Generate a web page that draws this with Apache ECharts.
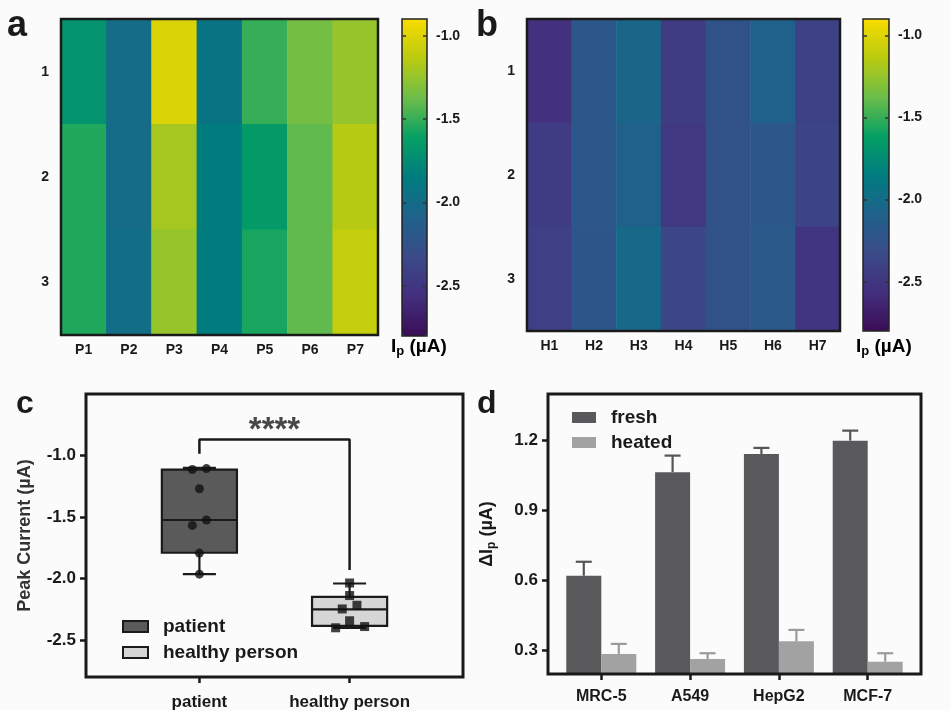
<!DOCTYPE html>
<html><head><meta charset="utf-8">
<script src="https://cdn.jsdelivr.net/npm/echarts@6/dist/echarts.min.js"></script>
<style>html,body{margin:0;padding:0;background:#fbfbfb}#c{width:950px;height:711px}</style>
</head><body><div id="c"></div><script>
// ---------- data ----------
const patientCols = ['P1','P2','P3','P4','P5','P6','P7'];
const healthyCols = ['H1','H2','H3','H4','H5','H6','H7'];
const repRows = ['1','2','3'];
const patientRow1 = [-1.70,-2.00,-1.02,-1.93,-1.50,-1.35,-1.25];
const patientRow2 = [-1.55,-2.00,-1.20,-1.85,-1.65,-1.40,-1.15];
const patientRow3 = [-1.55,-1.98,-1.25,-1.85,-1.57,-1.40,-1.10];
const healthyRow1 = [-2.55,-2.20,-2.05,-2.45,-2.25,-2.10,-2.40];
const healthyRow2 = [-2.45,-2.20,-2.10,-2.48,-2.25,-2.20,-2.38];
const healthyRow3 = [-2.42,-2.22,-2.02,-2.35,-2.25,-2.18,-2.52];
const colorbarTicks = [-2.5,-2.0,-1.5,-1.0];
const palette = ['#3b0d56','#432f7e','#3a4a88','#1f628b','#007c7f','#05a064','#6cbd4a','#bacb10','#f8dc00'];

const groups = ['patient','healthy person'];
const patientPoints = [-1.114,-1.106,-1.27,-1.524,-1.568,-1.793,-1.964];
const patientJitter = [-0.047,0.047,0,0.047,-0.047,0,0];
const healthyPoints = [-2.036,-2.138,-2.247,-2.217,-2.343,-2.40,-2.39];
const healthyJitter = [0,0,-0.049,0.049,0,-0.093,0.1];
const patientBox = [-1.964,-1.79,-1.524,-1.114,-1.10]; // min,Q1,median,Q3,max
const healthyBox = [-2.40,-2.384,-2.25,-2.149,-2.04];
const bracket = [[0,-0.986],[0,-0.87],[1,-0.87],[1,-1.93]];
const sigMark = [[0.5,-0.80]];
const cTicks = [-2.5,-2.0,-1.5,-1.0];

const cellLines = ['MRC-5','A549','HepG2','MCF-7'];
const fresh = [0.621,1.065,1.143,1.200];
const freshErr = [0.060,0.071,0.026,0.043];
const heated = [0.286,0.264,0.340,0.253];
const heatedErr = [0.043,0.025,0.049,0.036];
const dTicks = [0.3,0.6,0.9,1.2];

// ---------- helpers ----------
const FONT = 'Liberation Sans, Arial, sans-serif';
const INK = '#1a1a1a';
function heatData(rows){ const out=[]; rows.forEach((r,yi)=>r.forEach((v,xi)=>out.push([xi,yi,v]))); return out; }
const patientHeat = heatData([patientRow1,patientRow2,patientRow3]);
const healthyHeat = heatData([healthyRow1,healthyRow2,healthyRow3]);
const bold = (s)=>({fontFamily:FONT,fontWeight:'bold',fontSize:s,color:INK});

function heatX(grid, cats){ return {type:'category', gridIndex:grid, data:cats, z:6,
  axisLine:{show:false,onZero:false}, axisTick:{alignWithLabel:true,length:5,lineStyle:{color:INK,width:2}},
  axisLabel:Object.assign({margin:8},bold(14)), splitLine:{show:false}}; }
function heatY(grid){ return {type:'category', gridIndex:grid, data:repRows, inverse:true, z:6,
  axisLine:{show:false,onZero:false}, axisTick:{alignWithLabel:true,length:5,lineStyle:{color:INK,width:2}},
  axisLabel:Object.assign({margin:12},bold(14)), splitLine:{show:false}}; }
function cbY(grid, pos, labels){ return {type:'value', gridIndex:grid, position:pos, min:-2.8, max:-0.9, z:12,
  axisLine:{show:false,onZero:false}, splitLine:{show:false},
  axisTick:{show:true, inside:true, length:4, customValues:colorbarTicks, lineStyle:{color:'#333',width:1.5}},
  axisLabel: labels ? Object.assign({customValues:colorbarTicks, formatter:v=>Number(v).toFixed(1), margin:9}, bold(14)) : {show:false}}; }

function boxRender(params, api){
  const x=api.value(0), mn=api.value(1), q1=api.value(2), md=api.value(3), q3=api.value(4), mx=api.value(5);
  const hw=0.25, cw=0.11;
  const p=(a,b)=>api.coord([a,b]);
  const ls={stroke:INK,lineWidth:2.2};
  const L=(a,b)=>({type:'line',shape:{x1:a[0],y1:a[1],x2:b[0],y2:b[1]},style:ls});
  const tl=p(x-hw,q3), br=p(x+hw,q1);
  return {type:'group',children:[
    L(p(x,q3),p(x,mx)), L(p(x-cw,mx),p(x+cw,mx)),
    L(p(x,q1),p(x,mn)), L(p(x-cw,mn),p(x+cw,mn)),
    {type:'rect',shape:{x:tl[0],y:tl[1],width:br[0]-tl[0],height:br[1]-tl[1]},style:{fill:api.visual('color'),stroke:INK,lineWidth:2.2}},
    L(p(x-hw,md),p(x+hw,md))
  ]};
}
const BARW = 35;
function errRender(offset, color){ return function(params, api){
  const x=api.value(0), v=api.value(1), e=api.value(2);
  const a=api.coord([x,v]), b=api.coord([x,v+e]); const cx=a[0]+offset;
  const st={stroke:color,lineWidth:2.2};
  return {type:'group',children:[
    {type:'line',shape:{x1:cx,y1:a[1],x2:cx,y2:b[1]},style:st},
    {type:'line',shape:{x1:cx-8,y1:b[1],x2:cx+8,y2:b[1]},style:st}]};
};}

const subRich = {
  a:{fontFamily:FONT,fontWeight:'bold',fontSize:19,color:INK},
  s:{fontFamily:FONT,fontWeight:'bold',fontSize:13,color:INK,padding:[9,0,0,0]}
};
const subRichY = {
  a:{fontFamily:FONT,fontWeight:'bold',fontSize:18,color:INK},
  s:{fontFamily:FONT,fontWeight:'bold',fontSize:12,color:INK,padding:[9,0,0,0]}
};

const option = {
  backgroundColor:'#fbfbfb',
  animation:false,
  grid:[
    {left:61,top:19,width:317,height:316,show:true,z:5,backgroundColor:'transparent',borderColor:INK,borderWidth:2.5},
    {left:402,top:19,width:25,height:317,show:true,z:10,backgroundColor:'transparent',borderColor:'#222',borderWidth:1.5},
    {left:527,top:19,width:313,height:312,show:true,z:5,backgroundColor:'transparent',borderColor:INK,borderWidth:2.5},
    {left:863,top:19,width:26,height:312,show:true,z:10,backgroundColor:'transparent',borderColor:'#222',borderWidth:1.5},
    {left:86,top:394,width:377,height:283,show:true,z:5,backgroundColor:'transparent',borderColor:INK,borderWidth:3},
    {left:548,top:394,width:373,height:280,show:true,z:5,backgroundColor:'transparent',borderColor:INK,borderWidth:3}
  ],
  xAxis:[
    heatX(0,patientCols),
    {type:'value',gridIndex:1,show:false,min:0,max:1},
    heatX(2,healthyCols),
    {type:'value',gridIndex:3,show:false,min:0,max:1},
    {type:'value',gridIndex:4,min:-0.755,max:1.755,z:6,axisLine:{show:false,onZero:false},splitLine:{show:false},
      axisTick:{customValues:[0,1],length:6,lineStyle:{color:INK,width:2.5}},
      axisLabel:Object.assign({customValues:[0,1],formatter:v=>groups[Math.round(v)],margin:17},bold(17))},
    {type:'value',gridIndex:5,min:-0.6,max:3.6,z:6,axisLine:{show:false,onZero:false},splitLine:{show:false},
      axisTick:{customValues:[0,1,2,3],length:6,lineStyle:{color:INK,width:2.5}},
      axisLabel:Object.assign({customValues:[0,1,2,3],formatter:v=>cellLines[Math.round(v)],margin:15},bold(16))}
  ],
  yAxis:[
    heatY(0),
    cbY(1,'right',true),
    cbY(1,'left',false),
    heatY(2),
    cbY(3,'right',true),
    cbY(3,'left',false),
    {type:'value',gridIndex:4,position:'left',min:-2.8,max:-0.5,z:6,axisLine:{show:false,onZero:false},splitLine:{show:false},
      axisTick:{customValues:cTicks,length:6,lineStyle:{color:INK,width:2.5}},
      axisLabel:Object.assign({customValues:cTicks,formatter:v=>Number(v).toFixed(1),margin:10},bold(17)),
      name:'Peak Current (µA)',nameLocation:'middle',nameRotate:90,nameGap:52,
      nameTextStyle:{fontFamily:FONT,fontWeight:'bold',fontSize:18,color:'#333'}},
    {type:'value',gridIndex:5,position:'left',min:0.2,max:1.4,z:6,axisLine:{show:false,onZero:false},splitLine:{show:false},
      axisTick:{customValues:dTicks,length:6,lineStyle:{color:INK,width:2.5}},
      axisLabel:Object.assign({customValues:dTicks,formatter:v=>Number(v).toFixed(1),margin:10},bold(17)),
      name:'{a|ΔI}{s|p}{a| (µA)}',nameLocation:'middle',nameRotate:90,nameGap:50,
      nameTextStyle:{rich:subRichY}}
  ],
  visualMap:[
    {type:'continuous',seriesIndex:0,min:-2.8,max:-0.9,calculable:false,hoverLink:false,left:402,top:19,
      itemWidth:25,itemHeight:317,padding:0,text:null,inRange:{color:palette}},
    {type:'continuous',seriesIndex:1,min:-2.8,max:-0.9,calculable:false,hoverLink:false,left:863,top:19,
      itemWidth:26,itemHeight:312,padding:0,text:null,inRange:{color:palette}}
  ],
  legend:[
    {left:122,top:617,orient:'vertical',icon:'rect',itemWidth:25,itemHeight:11,itemGap:7,padding:0,selectedMode:false,
      data:[{name:'patient',itemStyle:{color:'#5a5a5a',borderColor:INK,borderWidth:2}},
            {name:'healthy person',itemStyle:{color:'#d6d6d6',borderColor:INK,borderWidth:2}}],
      textStyle:Object.assign({padding:[0,0,0,10]},bold(19))},
    {left:572,top:408,orient:'vertical',icon:'rect',itemWidth:24,itemHeight:11,itemGap:6,padding:0,selectedMode:false,
      data:[{name:'fresh',itemStyle:{color:'#59595b'}},{name:'heated',itemStyle:{color:'#a2a2a2'}}],
      textStyle:Object.assign({padding:[0,0,0,10]},bold(19))}
  ],
  series:[
    {type:'heatmap',xAxisIndex:0,yAxisIndex:0,data:patientHeat,itemStyle:{borderWidth:0}},
    {type:'heatmap',xAxisIndex:2,yAxisIndex:3,data:healthyHeat,itemStyle:{borderWidth:0}},
    {type:'custom',name:'patient',xAxisIndex:4,yAxisIndex:6,renderItem:boxRender,itemStyle:{color:'#5a5a5a'},
      encode:{x:0,y:[1,2,3,4,5]},data:[[0].concat(patientBox)]},
    {type:'custom',name:'healthy person',xAxisIndex:4,yAxisIndex:6,renderItem:boxRender,itemStyle:{color:'#d6d6d6'},
      encode:{x:0,y:[1,2,3,4,5]},data:[[1].concat(healthyBox)]},
    {type:'scatter',name:'patient pts',xAxisIndex:4,yAxisIndex:6,symbol:'circle',symbolSize:9,z:4,
      itemStyle:{color:'#111'},data:patientPoints.map((v,i)=>[0+patientJitter[i],v])},
    {type:'scatter',name:'healthy pts',xAxisIndex:4,yAxisIndex:6,symbol:'rect',symbolSize:9,z:4,
      itemStyle:{color:'#111'},data:healthyPoints.map((v,i)=>[1+healthyJitter[i],v])},
    {type:'line',name:'bracket',xAxisIndex:4,yAxisIndex:6,symbol:'none',lineStyle:{color:INK,width:2.5},data:bracket},
    {type:'scatter',name:'sig',xAxisIndex:4,yAxisIndex:6,symbolSize:1,itemStyle:{color:'transparent'},
      label:{show:true,position:'inside',formatter:'****',fontFamily:FONT,fontWeight:'bold',fontSize:33,color:INK},
      data:sigMark},
    {type:'bar',name:'fresh',xAxisIndex:5,yAxisIndex:7,barWidth:BARW,barGap:'0%',itemStyle:{color:'#59595b'},
      data:fresh.map((v,i)=>[i,v])},
    {type:'bar',name:'heated',xAxisIndex:5,yAxisIndex:7,barWidth:BARW,barGap:'0%',itemStyle:{color:'#a2a2a2'},
      data:heated.map((v,i)=>[i,v])},
    {type:'custom',name:'freshErr',xAxisIndex:5,yAxisIndex:7,renderItem:errRender(-BARW/2,'#555'),z:3,
      encode:{x:0,y:1},data:fresh.map((v,i)=>[i,v,freshErr[i]])},
    {type:'custom',name:'heatedErr',xAxisIndex:5,yAxisIndex:7,renderItem:errRender(BARW/2,'#9a9a9a'),z:3,
      encode:{x:0,y:1},data:heated.map((v,i)=>[i,v,heatedErr[i]])}
  ],
  graphic:[
    {type:'text',left:7,top:8,style:{text:'a',fontFamily:FONT,fontWeight:'bold',fontSize:36,fill:INK}},
    {type:'text',left:476,top:8,style:{text:'b',fontFamily:FONT,fontWeight:'bold',fontSize:36,fill:INK}},
    {type:'text',left:16,top:388,style:{text:'c',fontFamily:FONT,fontWeight:'bold',fontSize:32,fill:INK}},
    {type:'text',left:477,top:388,style:{text:'d',fontFamily:FONT,fontWeight:'bold',fontSize:32,fill:INK}},
    {type:'text',left:391,top:337,style:{text:'{a|I}{s|p}{a| (µA)}',rich:subRich}},
    {type:'text',left:856,top:337,style:{text:'{a|I}{s|p}{a| (µA)}',rich:subRich}}
  ]
};
const chart = echarts.init(document.getElementById('c'));
chart.setOption(option);
</script></body></html>
